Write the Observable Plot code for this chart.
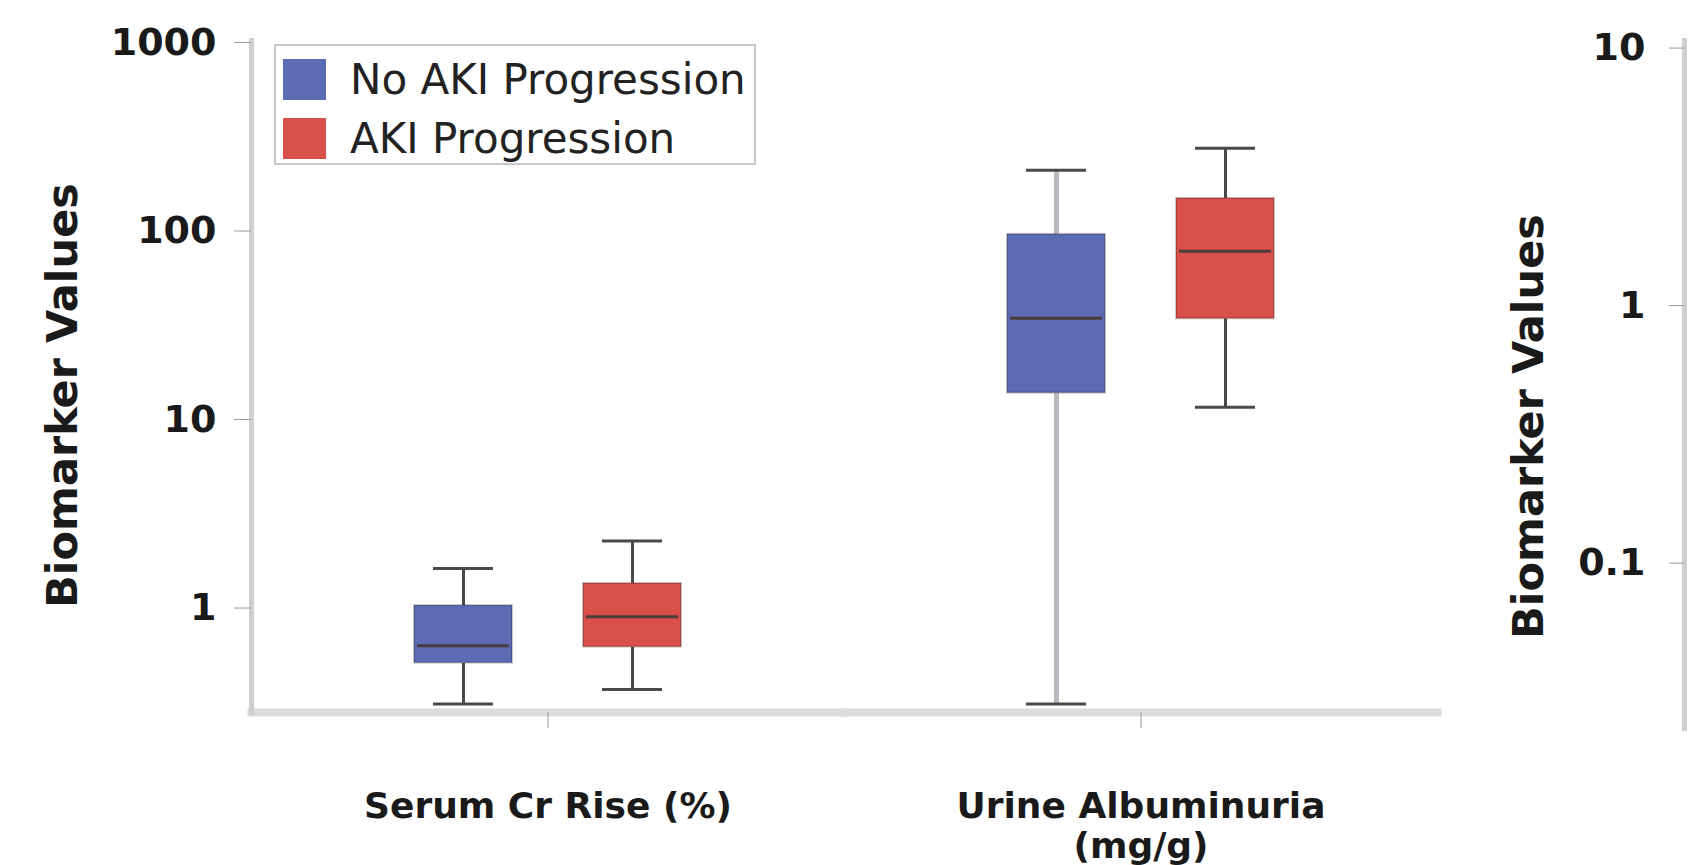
<!DOCTYPE html>
<html><head><meta charset="utf-8">
<script src="https://cdn.jsdelivr.net/npm/d3@7"></script>
<script src="https://cdn.jsdelivr.net/npm/@observablehq/plot@0.6"></script>
<style>
html,body{margin:0;padding:0;background:#fff;overflow:hidden;width:1691px;height:865px}
#wrap{position:relative;width:1691px;height:865px;overflow:hidden}
#left{position:absolute;left:0;top:0;width:1460px}
#right{position:absolute;left:1461px;top:0;width:400px}
#wrap svg{max-width:none !important}
.legend{position:absolute;left:274px;top:44px;width:482px;height:121px;border:2px solid #c8c8c8;box-sizing:border-box;background:#fff;font-family:"DejaVu Sans";font-size:42px;color:#222}
.legend .row{position:absolute;left:7px;display:flex;align-items:center;height:42px;white-space:nowrap}
.legend .sw{width:43px;height:41px;margin-right:24px}
</style></head><body><div id="wrap"><div id="left"></div><div id="right"></div></div>
<script>
// ---- data ----
const categories = ["Serum Cr Rise (%)", "Urine Albuminuria (mg/g)"];
const categoryLabels = ["Serum Cr Rise (%)", "Urine Albuminuria\n(mg/g)"];
const series = ["No AKI Progression", "AKI Progression"];
const seriesColors = ["#5b6cb4", "#d9504a"];
const noAkiMin = [0.31, 0.31];
const noAkiQ1 = [0.51, 13.8];
const noAkiMedian = [0.63, 34.5];
const noAkiQ3 = [1.03, 96];
const noAkiMax = [1.62, 210];
const akiMin = [0.37, 11.6];
const akiQ1 = [0.62, 34.2];
const akiMedian = [0.9, 78];
const akiQ3 = [1.35, 149];
const akiMax = [2.27, 275];
const leftTicks = [1, 10, 100, 1000];
const leftTickLabels = ["1", "10", "100", "1000"];
const rightTicks = [0.1, 1, 10];
const rightTickLabels = ["0.1", "1", "10"];
const yLabel = "Biomarker Values";

// ---- table ----
const statsBySeries = [
  [noAkiMin, noAkiQ1, noAkiMedian, noAkiQ3, noAkiMax],
  [akiMin, akiQ1, akiMedian, akiQ3, akiMax]
];
const rows = [];
series.forEach((s, si) => categories.forEach((c, ci) => {
  const [mn, q1, md, q3, mx] = statsBySeries[si].map(a => a[ci]);
  rows.push({series: s, category: c, min: mn, q1, median: md, q3, max: mx});
}));

const isLight = d => d.series === series[0] && d.category === categories[1];
const whiskerStroke = d => isLight(d) ? "#b9b9c2" : "#4d4848";

const left = Plot.plot({
  width: 1460, height: 865,
  marginLeft: 250, marginRight: 23, marginTop: 40, marginBottom: 153,
  style: {fontFamily: "DejaVu Sans", fontSize: "38px", fontWeight: "bold", color: "#1a1a1a", background: "transparent", overflow: "visible"},
  fx: {domain: categories, padding: 0, label: null},
  x: {domain: series, paddingInner: 0.42, paddingOuter: 0.96, axis: null},
  y: {type: "log", domain: [0.279, 1025], label: null},
  color: {domain: series, range: seriesColors},
  marks: [
    Plot.frame({anchor: "bottom", stroke: "#dcdcdc", strokeWidth: 8}),
    Plot.frame({anchor: "left", facetAnchor: "left", stroke: "#cfcfcf", strokeWidth: 5}),
    Plot.axisY({ticks: leftTicks, tickFormat: d => leftTickLabels[leftTicks.indexOf(d)], tickSize: 17, tickPadding: 18, stroke: "#9a9a9a", label: null}),
    Plot.axisFx({anchor: "bottom", tickSize: 16, tickPadding: 61, lineHeight: 1.12, fontSize: 36, tickFormat: d => categoryLabels[categories.indexOf(d)], stroke: "#9a9a9a", label: null}),
    Plot.text([yLabel], {fx: () => categories[0], text: d => d, frameAnchor: "left", textAnchor: "middle", rotate: -90, dx: -188, dy: 19, fontFamily: "DejaVu Sans", fontSize: 43, fontWeight: "bold", fill: "#1a1a1a"}),
    Plot.ruleX(rows, {fx: "category", x: "series", y1: "min", y2: "q1", stroke: whiskerStroke, strokeWidth: d => isLight(d) ? 5 : 3}),
    Plot.ruleX(rows, {fx: "category", x: "series", y1: "q3", y2: "max", stroke: whiskerStroke, strokeWidth: d => isLight(d) ? 5 : 3}),
    Plot.tickY(rows, {fx: "category", x: "series", y: "min", stroke: "#4d4848", strokeWidth: 3, inset: 19}),
    Plot.tickY(rows, {fx: "category", x: "series", y: "max", stroke: "#4d4848", strokeWidth: 3, inset: 19}),
    Plot.barY(rows, {fx: "category", x: "series", y1: "q1", y2: "q3", fill: "series", stroke: "#000", strokeOpacity: 0.22, strokeWidth: 2}),
    Plot.tickY(rows, {fx: "category", x: "series", y: "median", stroke: "#4b3c3c", strokeWidth: 3, inset: 3})
  ]
});
document.getElementById("left").appendChild(left);

const right = Plot.plot({
  width: 400, height: 865,
  marginLeft: 223, marginRight: 20, marginTop: 40, marginBottom: 137,
  style: {fontFamily: "DejaVu Sans", fontSize: "38px", fontWeight: "bold", color: "#1a1a1a", background: "transparent"},
  y: {type: "log", domain: [0.0228, 10.7], label: null},
  marks: [
    Plot.frame({anchor: "left", stroke: "#cfcfcf", strokeWidth: 5}),
    Plot.axisY({ticks: rightTicks, tickFormat: d => rightTickLabels[rightTicks.indexOf(d)], tickSize: 15, tickPadding: 24, stroke: "#9a9a9a", label: null}),
    Plot.text([yLabel], {text: d => d, frameAnchor: "left", textAnchor: "middle", rotate: -90, dx: -155, dy: 42, fontFamily: "DejaVu Sans", fontSize: 43, fontWeight: "bold", fill: "#1a1a1a"})
  ]
});
document.getElementById("right").appendChild(right);

// legend built from the plot's color scale
const color = left.scale("color");
const legend = d3.select("#wrap").append("div").attr("class", "legend");
series.forEach((s, i) => {
  const row = legend.append("div").attr("class", "row").style("top", (12 + i * 59) + "px");
  row.append("div").attr("class", "sw").style("background", color.apply(s));
  row.append("span").text(s);
});
</script>
</body></html>
